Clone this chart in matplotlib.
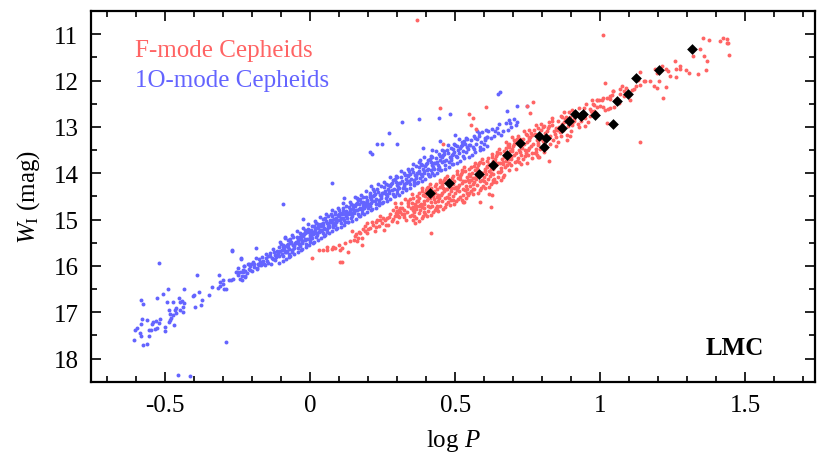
import numpy as np
import matplotlib
matplotlib.use("Agg")
import matplotlib.pyplot as plt
from matplotlib.ticker import MultipleLocator

# ---- data (log P, W_I) ----

# classical Cepheids with distances (black diamonds)
cep_logp = [0.413, 0.479, 0.582, 0.630, 0.678, 0.725, 0.790, 0.812, 0.806, 0.868, 0.893,
            0.913, 0.934, 0.941, 0.982, 1.045, 1.059, 1.095, 1.123, 1.201, 1.316]
cep_w = [14.43, 14.22, 14.01, 13.83, 13.60, 13.34, 13.20, 13.25, 13.44, 13.03, 12.87,
         12.73, 12.76, 12.73, 12.75, 12.93, 12.45, 12.30, 11.94, 11.78, 11.33]

# 1O-mode, short period tail
blue_tail = [
    (-0.270, 15.67), (-0.519, 15.93), (-0.239, 15.85), (-0.209, 15.95), (-0.227, 16.01),
    (-0.223, 16.10), (-0.209, 16.07), (-0.253, 16.14), (-0.243, 16.13), (-0.234, 16.30),
    (-0.224, 16.23), (-0.264, 16.28), (-0.271, 16.31), (-0.280, 16.30), (-0.315, 16.19),
    (-0.391, 16.19), (-0.301, 16.30), (-0.310, 16.34), (-0.299, 16.39), (-0.310, 16.44),
    (-0.290, 16.51), (-0.296, 16.49), (-0.317, 16.47), (-0.338, 16.46), (-0.384, 16.57),
    (-0.400, 16.63), (-0.404, 16.66), (-0.372, 16.73), (-0.375, 16.85), (-0.395, 16.89),
    (-0.347, 16.63), (-0.433, 16.51), (-0.489, 16.49), (-0.507, 16.60), (-0.529, 16.70),
    (-0.581, 16.73), (-0.575, 16.82), (-0.453, 16.70), (-0.441, 16.75), (-0.434, 16.80),
    (-0.448, 16.79), (-0.471, 16.79), (-0.492, 16.79), (-0.437, 16.89), (-0.462, 16.92),
    (-0.448, 16.96), (-0.467, 16.96), (-0.485, 16.95), (-0.483, 17.03), (-0.473, 17.06),
    (-0.462, 17.02), (-0.439, 17.00), (-0.480, 17.13), (-0.483, 17.16), (-0.485, 17.22),
    (-0.469, 17.27), (-0.499, 17.31), (-0.501, 17.40), (-0.517, 17.15), (-0.519, 17.23),
    (-0.531, 17.18), (-0.540, 17.22), (-0.545, 17.26), (-0.526, 17.34), (-0.535, 17.36),
    (-0.547, 17.38), (-0.556, 17.39), (-0.563, 17.16), (-0.579, 17.15), (-0.581, 17.25),
    (-0.598, 17.35), (-0.602, 17.39), (-0.586, 17.45), (-0.581, 17.51), (-0.554, 17.52),
    (-0.607, 17.61), (-0.575, 17.71), (-0.563, 17.68), (-0.290, 17.64), (-0.455, 18.36),
    (-0.414, 18.37),
]

# 1O-mode, main ridge
blue_band = [
    (-0.255, 16.14), (-0.247, 16.19), (-0.230, 16.08), (-0.224, 16.22), (-0.207, 16.01),
    (-0.201, 16.12), (-0.193, 15.95), (-0.184, 16.04), (-0.175, 15.86), (-0.170, 15.99),
    (-0.161, 15.90), (-0.152, 15.83), (-0.144, 15.94), (-0.138, 15.79), (-0.129, 15.86),
    (-0.121, 15.76), (-0.115, 15.68), (-0.106, 15.78), (-0.098, 15.65), (-0.092, 15.59),
    (-0.083, 15.71), (-0.075, 15.59), (-0.069, 15.50), (-0.063, 15.65), (-0.058, 15.54),
    (-0.048, 15.49), (-0.040, 15.43), (-0.035, 15.38), (-0.029, 15.50), (-0.023, 15.32),
    (-0.017, 15.43), (-0.012, 15.27), (-0.002, 15.37), (0.002, 15.23), (0.011, 15.32),
    (0.017, 15.18), (0.023, 15.29), (0.029, 15.14), (0.034, 15.23), (0.044, 15.11),
    (0.052, 15.20), (0.057, 15.07), (0.063, 15.14), (0.069, 15.02), (0.078, 15.11),
    (0.083, 14.99), (0.090, 15.06), (0.098, 14.93), (0.103, 15.00), (0.109, 14.87),
    (0.115, 14.97), (0.124, 14.82), (0.132, 14.89), (0.138, 14.77), (0.144, 14.86),
    (0.149, 14.71), (0.159, 14.79), (0.167, 14.66), (0.172, 14.75), (0.181, 14.63),
    (0.190, 14.71), (0.195, 14.57), (0.201, 14.68), (0.207, 14.51),
    (-0.248, 16.05), (-0.236, 16.21), (-0.242, 16.29), (-0.232, 16.14),
    (-0.226, 16.00), (-0.213, 15.95), (-0.218, 16.15), (-0.229, 16.12),
    (-0.197, 15.91), (-0.207, 16.08), (-0.192, 16.03), (-0.204, 15.97),
    (-0.188, 15.83), (-0.176, 15.99), (-0.182, 16.07), (-0.172, 15.92), (-0.179, 15.96),
    (-0.166, 15.80), (-0.153, 15.75), (-0.158, 15.95), (-0.169, 15.92), (-0.155, 15.99),
    (-0.137, 15.72), (-0.147, 15.89), (-0.132, 15.84), (-0.144, 15.78), (-0.134, 15.95),
    (-0.128, 15.64), (-0.116, 15.80), (-0.122, 15.88), (-0.112, 15.73), (-0.119, 15.77), (-0.125, 15.70),
    (-0.106, 15.60), (-0.093, 15.55), (-0.098, 15.75), (-0.109, 15.72), (-0.095, 15.79), (-0.103, 15.68), (-0.091, 15.64),
    (-0.077, 15.52), (-0.087, 15.69), (-0.072, 15.64), (-0.084, 15.58), (-0.074, 15.75), (-0.081, 15.54), (-0.078, 15.67),
    (-0.068, 15.42), (-0.056, 15.58), (-0.062, 15.66), (-0.052, 15.51), (-0.059, 15.55), (-0.065, 15.48), (-0.054, 15.62), (-0.061, 15.71),
    (-0.046, 15.38), (-0.033, 15.33), (-0.038, 15.53), (-0.049, 15.50), (-0.035, 15.57), (-0.043, 15.46), (-0.031, 15.42), (-0.040, 15.61),
    (-0.017, 15.29), (-0.027, 15.46), (-0.012, 15.41), (-0.024, 15.35), (-0.014, 15.52), (-0.021, 15.31), (-0.018, 15.44), (-0.029, 15.49),
    (-0.008, 15.20), (0.004, 15.36), (-0.002, 15.44), (0.008, 15.29), (0.001, 15.33), (-0.005, 15.26), (0.006, 15.40), (-0.001, 15.49),
    (0.014, 15.15), (0.027, 15.10), (0.022, 15.30), (0.011, 15.27), (0.025, 15.34), (0.017, 15.23), (0.029, 15.19), (0.020, 15.38),
    (0.043, 15.07), (0.033, 15.24), (0.048, 15.19), (0.036, 15.13), (0.046, 15.30), (0.039, 15.09), (0.042, 15.22), (0.031, 15.27),
    (0.052, 14.97), (0.064, 15.13), (0.058, 15.21), (0.068, 15.06), (0.061, 15.10), (0.055, 15.03), (0.066, 15.17), (0.059, 15.26),
    (0.074, 14.93), (0.087, 14.88), (0.082, 15.08), (0.071, 15.05), (0.085, 15.12), (0.077, 15.01), (0.089, 14.97), (0.080, 15.16),
    (0.103, 14.85), (0.093, 15.02), (0.108, 14.97), (0.096, 14.91), (0.106, 15.08), (0.099, 14.87), (0.102, 15.00), (0.091, 15.05),
    (0.112, 14.76), (0.124, 14.92), (0.118, 15.00), (0.128, 14.85), (0.121, 14.89), (0.115, 14.82), (0.126, 14.96), (0.119, 15.05),
    (0.134, 14.73), (0.147, 14.68), (0.142, 14.88), (0.131, 14.85), (0.145, 14.92), (0.137, 14.81), (0.149, 14.77), (0.140, 14.96),
    (0.163, 14.65), (0.153, 14.82), (0.168, 14.77), (0.156, 14.71), (0.166, 14.88), (0.159, 14.67), (0.162, 14.80), (0.151, 14.85),
    (0.172, 14.56), (0.184, 14.72), (0.178, 14.80), (0.188, 14.65), (0.181, 14.69), (0.175, 14.62), (0.186, 14.76), (0.179, 14.85),
    (0.194, 14.52), (0.207, 14.47), (0.202, 14.67), (0.191, 14.64), (0.205, 14.71), (0.197, 14.60), (0.209, 14.56), (0.200, 14.75),
    (0.223, 14.44), (0.213, 14.61), (0.228, 14.56), (0.216, 14.50), (0.226, 14.67), (0.219, 14.46), (0.222, 14.59), (0.211, 14.64),
    (0.232, 14.34), (0.244, 14.50), (0.238, 14.58), (0.248, 14.43), (0.241, 14.47), (0.235, 14.40), (0.246, 14.54), (0.239, 14.63),
    (0.254, 14.30), (0.267, 14.25), (0.262, 14.45), (0.251, 14.42), (0.265, 14.49), (0.257, 14.38), (0.269, 14.34), (0.260, 14.53),
    (0.283, 14.22), (0.273, 14.39), (0.288, 14.34), (0.276, 14.28), (0.286, 14.45), (0.279, 14.24), (0.282, 14.37), (0.271, 14.42),
    (0.292, 14.13), (0.304, 14.29), (0.298, 14.37), (0.308, 14.22), (0.301, 14.26), (0.295, 14.19), (0.306, 14.33), (0.299, 14.42),
    (0.314, 14.09), (0.327, 14.04), (0.322, 14.24), (0.311, 14.21), (0.325, 14.28), (0.317, 14.17), (0.329, 14.13), (0.320, 14.32),
    (0.343, 14.01), (0.333, 14.18), (0.348, 14.13), (0.336, 14.07), (0.346, 14.24), (0.339, 14.03), (0.342, 14.16), (0.331, 14.21),
    (0.352, 13.91), (0.364, 14.07), (0.358, 14.15), (0.368, 14.00), (0.361, 14.04), (0.355, 13.97), (0.366, 14.11), (0.359, 14.20),
    (0.374, 13.87), (0.387, 13.82), (0.382, 14.02), (0.371, 13.99), (0.385, 14.06), (0.377, 13.95), (0.389, 13.91), (0.380, 14.10),
    (0.403, 13.79), (0.393, 13.96), (0.408, 13.91), (0.396, 13.85), (0.406, 14.02), (0.399, 13.81), (0.402, 13.94), (0.391, 13.99),
    (0.412, 13.70), (0.424, 13.86), (0.418, 13.94), (0.428, 13.79), (0.421, 13.83), (0.415, 13.76), (0.426, 13.90), (0.419, 13.99),
    (0.434, 13.67), (0.447, 13.62), (0.442, 13.82), (0.431, 13.79), (0.445, 13.86), (0.437, 13.75), (0.449, 13.71), (0.440, 13.90),
    (0.463, 13.59), (0.453, 13.76), (0.468, 13.71), (0.456, 13.65), (0.466, 13.82), (0.459, 13.61), (0.462, 13.74),
    (0.472, 13.51), (0.484, 13.67), (0.478, 13.75), (0.488, 13.60), (0.481, 13.64), (0.475, 13.57), (0.486, 13.71),
    (0.494, 13.47), (0.507, 13.42), (0.502, 13.62), (0.491, 13.59), (0.505, 13.66), (0.497, 13.55), (0.509, 13.51),
    (0.523, 13.40), (0.513, 13.57), (0.528, 13.52), (0.516, 13.46), (0.526, 13.63), (0.519, 13.42),
    (0.532, 13.31), (0.544, 13.47), (0.538, 13.55), (0.548, 13.40), (0.541, 13.44), (0.535, 13.37),
    (0.554, 13.28), (0.567, 13.23), (0.562, 13.43), (0.551, 13.40), (0.565, 13.47),
    (0.583, 13.20), (0.573, 13.37), (0.588, 13.32), (0.576, 13.26), (0.586, 13.43),
    (0.592, 13.12), (0.604, 13.28), (0.598, 13.36), (0.608, 13.21), (0.601, 13.25),
    (0.614, 13.09), (0.627, 13.04), (0.622, 13.24), (0.611, 13.21),
    (0.643, 13.02), (0.633, 13.19), (0.648, 13.14), (0.636, 13.08),
    (0.652, 12.94), (0.664, 13.10), (0.658, 13.18),
    (0.674, 12.91), (0.687, 12.86), (0.682, 13.06),
    (0.703, 12.84), (0.693, 13.01), (0.708, 12.96),
]

# 1O-mode, edges of the ridge
blue_edge = [
    (-0.104, 15.49), (-0.094, 15.90), (-0.099, 15.53), (-0.108, 15.93),
    (-0.075, 15.44), (-0.083, 15.85), (-0.071, 15.80), (-0.086, 15.39),
    (-0.064, 15.34), (-0.054, 15.75), (-0.059, 15.38), (-0.068, 15.78),
    (-0.035, 15.29), (-0.043, 15.70), (-0.031, 15.65), (-0.046, 15.24),
    (-0.024, 15.19), (-0.014, 15.60), (-0.019, 15.23), (-0.028, 15.63),
    (0.005, 15.14), (-0.003, 15.55), (0.009, 15.50), (-0.006, 15.09),
    (0.016, 15.04), (0.026, 15.45), (0.021, 15.08), (0.012, 15.48),
    (0.045, 14.99), (0.037, 15.40), (0.049, 15.35), (0.034, 14.94),
    (0.056, 14.89), (0.066, 15.30), (0.061, 14.93), (0.052, 15.33),
    (0.085, 14.84), (0.077, 15.25), (0.089, 15.20), (0.074, 14.79),
    (0.096, 14.75), (0.106, 15.16), (0.101, 14.79), (0.092, 15.19),
    (0.125, 14.70), (0.117, 15.11), (0.129, 15.06), (0.114, 14.65),
    (0.136, 14.62), (0.146, 15.03), (0.141, 14.66), (0.132, 15.06),
    (0.165, 14.57), (0.157, 14.98), (0.169, 14.93), (0.154, 14.52),
    (0.176, 14.48), (0.186, 14.89), (0.181, 14.52), (0.172, 14.92),
    (0.205, 14.43), (0.197, 14.84), (0.209, 14.79), (0.194, 14.38),
    (0.216, 14.34), (0.226, 14.75), (0.221, 14.38), (0.212, 14.78),
    (0.245, 14.28), (0.237, 14.69), (0.249, 14.64), (0.234, 14.23),
    (0.256, 14.19), (0.266, 14.60), (0.261, 14.23), (0.252, 14.63),
    (0.285, 14.14), (0.277, 14.55), (0.289, 14.50), (0.274, 14.09),
    (0.296, 14.05), (0.306, 14.46), (0.301, 14.09), (0.292, 14.49),
    (0.325, 14.00), (0.317, 14.41), (0.329, 14.36), (0.314, 13.95),
    (0.336, 13.91), (0.346, 14.32), (0.341, 13.95), (0.332, 14.35),
    (0.365, 13.85), (0.357, 14.26), (0.369, 14.21), (0.354, 13.80),
    (0.376, 13.76), (0.386, 14.17), (0.381, 13.80), (0.372, 14.20),
    (0.405, 13.71), (0.397, 14.12), (0.409, 14.07), (0.394, 13.66),
    (0.416, 13.62), (0.426, 14.03), (0.421, 13.66), (0.412, 14.06),
    (0.445, 13.58), (0.437, 13.99), (0.449, 13.94), (0.434, 13.53),
    (0.456, 13.49), (0.466, 13.90), (0.461, 13.53), (0.452, 13.93),
    (0.485, 13.45), (0.477, 13.86), (0.489, 13.81), (0.474, 13.40),
    (0.496, 13.36), (0.506, 13.77), (0.501, 13.40), (0.492, 13.80),
    (0.525, 13.32), (0.517, 13.73), (0.529, 13.68), (0.514, 13.27),
    (0.536, 13.23), (0.546, 13.64), (0.541, 13.27),
    (0.565, 13.19), (0.557, 13.60), (0.569, 13.55),
    (0.576, 13.10), (0.586, 13.51), (0.581, 13.14),
    (0.605, 13.06), (0.597, 13.47), (0.609, 13.42),
]

# 1O-mode, scattered stars
blue_out = [
    (0.653, 12.25), (0.646, 12.30), (0.713, 12.54), (0.747, 12.54), (0.483, 12.73),
    (0.377, 12.83), (0.445, 12.81), (0.316, 12.90), (0.271, 13.13), (0.230, 13.36),
    (0.247, 13.38), (0.207, 13.55), (0.213, 13.58), (0.299, 13.36), (0.389, 13.45),
    (0.420, 13.51), (0.498, 13.18), (0.379, 13.71), (0.209, 14.28), (0.161, 14.53),
    (0.448, 13.31), (0.679, 12.66), (0.690, 12.91), (0.713, 12.89), (0.075, 14.21),
    (-0.094, 14.66), (-0.025, 14.99), (-0.086, 15.38), (0.117, 14.54), (0.071, 14.88),
    (-0.186, 15.61), (-0.270, 15.65), (-0.239, 15.84),
]

# F-mode, short period end
red_short = [
    (0.006, 15.83), (0.032, 15.65), (0.046, 15.65), (0.057, 15.59), (0.057, 15.66),
    (0.075, 15.63), (0.080, 15.59), (0.086, 15.61), (0.098, 15.56), (0.103, 15.66),
    (0.103, 15.91), (0.109, 15.92), (0.109, 15.61), (0.121, 15.50), (0.132, 15.71),
    (0.138, 15.47), (0.144, 15.25), (0.155, 15.36), (0.159, 15.32), (0.161, 15.47),
    (0.167, 15.27), (0.172, 15.29), (0.178, 15.54), (0.178, 15.40), (0.190, 15.25),
    (0.190, 15.14), (0.195, 15.07), (0.195, 15.29), (0.207, 15.18), (0.218, 15.11),
    (0.224, 15.25), (0.230, 15.00), (0.236, 15.14), (0.241, 14.93), (0.247, 15.07),
    (0.253, 15.22), (0.264, 14.97), (0.270, 15.11), (0.276, 14.89), (0.282, 15.04),
    (0.287, 14.79), (0.293, 14.93), (0.301, 14.82), (0.310, 14.75), (0.316, 14.89),
    (0.322, 14.79), (0.331, 15.00), (0.336, 14.71), (0.351, 14.64), (0.356, 14.79),
    (0.368, 14.61), (0.379, 14.68), (0.417, 15.30), (0.200, 15.20), (0.212, 15.05),
    (0.226, 15.16), (0.240, 15.02), (0.258, 15.00), (0.262, 15.12), (0.272, 14.95),
    (0.285, 14.98), (0.296, 14.86), (0.305, 14.95), (0.250, 14.97), (0.228, 15.06),
    (0.183, 15.20), (0.166, 15.40), (0.150, 15.45),
]

# F-mode, main ridge
red_band = [
    (0.292, 14.65), (0.304, 14.92), (0.298, 15.05), (0.308, 14.80), (0.301, 14.87), (0.295, 14.74),
    (0.314, 14.64), (0.327, 14.55), (0.322, 14.88), (0.311, 14.83), (0.325, 14.95), (0.317, 14.76),
    (0.343, 14.55), (0.333, 14.83), (0.348, 14.75), (0.336, 14.65), (0.346, 14.93), (0.339, 14.59),
    (0.352, 14.44), (0.364, 14.71), (0.358, 14.84), (0.368, 14.59), (0.361, 14.66), (0.355, 14.53), (0.366, 14.77), (0.359, 14.92), (0.369, 14.49), (0.353, 14.74),
    (0.374, 14.42), (0.387, 14.33), (0.382, 14.66), (0.371, 14.61), (0.385, 14.73), (0.377, 14.54), (0.389, 14.48), (0.380, 14.79), (0.376, 14.70), (0.386, 14.39),
    (0.403, 14.33), (0.393, 14.61), (0.408, 14.53), (0.396, 14.43), (0.406, 14.71), (0.399, 14.37), (0.402, 14.57), (0.391, 14.66), (0.405, 14.29), (0.397, 14.49),
    (0.412, 14.23), (0.424, 14.50), (0.418, 14.63), (0.428, 14.38), (0.421, 14.45), (0.415, 14.32), (0.426, 14.56), (0.419, 14.71), (0.429, 14.28), (0.413, 14.53),
    (0.434, 14.23), (0.447, 14.14), (0.442, 14.47), (0.431, 14.42), (0.445, 14.54), (0.437, 14.35), (0.449, 14.29), (0.440, 14.60), (0.436, 14.51), (0.446, 14.20),
    (0.463, 14.15), (0.453, 14.43), (0.468, 14.35), (0.456, 14.25), (0.466, 14.53), (0.459, 14.19), (0.462, 14.39), (0.451, 14.48), (0.465, 14.11), (0.457, 14.31),
    (0.472, 14.05), (0.484, 14.32), (0.478, 14.45), (0.488, 14.20), (0.481, 14.27), (0.475, 14.14), (0.486, 14.38), (0.479, 14.53), (0.489, 14.10), (0.473, 14.35),
    (0.494, 14.05), (0.507, 13.96), (0.502, 14.29), (0.491, 14.24), (0.505, 14.36), (0.497, 14.17), (0.509, 14.11), (0.500, 14.42), (0.496, 14.33), (0.506, 14.02),
    (0.523, 13.97), (0.513, 14.25), (0.528, 14.17), (0.516, 14.07), (0.526, 14.35), (0.519, 14.01), (0.522, 14.21), (0.511, 14.30), (0.525, 13.93), (0.517, 14.13),
    (0.532, 13.87), (0.544, 14.14), (0.538, 14.27), (0.548, 14.02), (0.541, 14.09), (0.535, 13.96), (0.546, 14.20), (0.539, 14.35), (0.549, 13.92), (0.533, 14.17),
    (0.554, 13.87), (0.567, 13.78), (0.562, 14.11), (0.551, 14.06), (0.565, 14.18), (0.557, 13.99), (0.569, 13.93), (0.560, 14.24), (0.556, 14.15), (0.566, 13.84),
    (0.583, 13.79), (0.573, 14.07), (0.588, 13.99), (0.576, 13.89), (0.586, 14.17), (0.579, 13.83), (0.582, 14.03), (0.571, 14.12), (0.585, 13.75), (0.577, 13.95),
    (0.592, 13.69), (0.604, 13.96), (0.598, 14.09), (0.608, 13.84), (0.601, 13.91), (0.595, 13.78), (0.606, 14.02), (0.599, 14.17), (0.609, 13.74), (0.593, 13.99),
    (0.614, 13.68), (0.627, 13.59), (0.622, 13.92), (0.611, 13.87), (0.625, 13.99), (0.617, 13.80), (0.629, 13.74), (0.620, 14.05), (0.616, 13.96), (0.626, 13.65),
    (0.643, 13.59), (0.633, 13.87), (0.648, 13.79), (0.636, 13.69), (0.646, 13.97), (0.639, 13.63), (0.642, 13.83), (0.631, 13.92), (0.645, 13.55), (0.637, 13.75),
    (0.652, 13.48), (0.664, 13.75), (0.658, 13.88), (0.668, 13.63), (0.661, 13.70), (0.655, 13.57), (0.666, 13.81), (0.659, 13.96), (0.669, 13.53), (0.653, 13.78),
    (0.674, 13.46), (0.687, 13.37), (0.682, 13.70), (0.671, 13.65), (0.685, 13.77), (0.677, 13.58), (0.689, 13.52), (0.680, 13.83), (0.676, 13.74), (0.686, 13.43),
    (0.703, 13.37), (0.693, 13.65), (0.708, 13.57), (0.696, 13.47), (0.706, 13.75), (0.699, 13.41), (0.702, 13.61), (0.691, 13.70), (0.705, 13.33), (0.697, 13.53),
    (0.712, 13.27), (0.724, 13.54), (0.718, 13.67), (0.728, 13.42), (0.721, 13.49), (0.715, 13.36), (0.726, 13.60), (0.719, 13.75),
    (0.734, 13.26), (0.747, 13.17), (0.742, 13.50), (0.731, 13.45), (0.745, 13.57), (0.737, 13.38), (0.749, 13.32), (0.740, 13.63),
    (0.763, 13.18), (0.753, 13.46), (0.768, 13.38), (0.756, 13.28), (0.766, 13.56), (0.759, 13.22), (0.762, 13.42), (0.751, 13.51),
    (0.772, 13.07), (0.784, 13.34), (0.778, 13.47), (0.788, 13.22), (0.781, 13.29), (0.775, 13.16), (0.786, 13.40), (0.779, 13.55),
    (0.794, 13.07), (0.807, 12.98), (0.802, 13.31), (0.791, 13.26), (0.805, 13.38), (0.797, 13.19), (0.809, 13.13), (0.800, 13.44),
    (0.823, 12.99), (0.813, 13.27), (0.828, 13.19), (0.816, 13.09), (0.826, 13.37), (0.819, 13.03), (0.822, 13.23),
    (0.832, 12.88), (0.844, 13.15), (0.838, 13.28), (0.848, 13.03), (0.841, 13.10), (0.835, 12.97), (0.846, 13.21),
    (0.854, 12.88), (0.867, 12.79), (0.862, 13.12), (0.851, 13.07), (0.865, 13.19), (0.857, 13.00), (0.869, 12.94),
    (0.883, 12.79), (0.873, 13.07), (0.888, 12.99), (0.876, 12.89), (0.886, 13.17), (0.879, 12.83),
    (0.892, 12.69), (0.904, 12.96), (0.898, 13.09), (0.908, 12.84), (0.901, 12.91), (0.895, 12.78),
    (0.914, 12.69), (0.927, 12.60), (0.922, 12.93), (0.911, 12.88), (0.925, 13.00),
    (0.943, 12.60), (0.933, 12.88), (0.948, 12.80), (0.936, 12.70), (0.946, 12.98),
    (0.952, 12.50), (0.964, 12.77), (0.958, 12.90), (0.968, 12.65),
    (0.974, 12.50), (0.987, 12.41), (0.982, 12.74), (0.971, 12.69),
]

# F-mode, faint edge of the ridge (and bright edge at longer periods)
red_edge = [
    (0.355, 15.02), (0.366, 14.97), (0.362, 15.08), (0.352, 14.90),
    (0.384, 14.97), (0.374, 14.86), (0.389, 14.92), (0.377, 15.03),
    (0.395, 14.87), (0.406, 14.82), (0.402, 14.93), (0.392, 14.75),
    (0.424, 14.84), (0.414, 14.73), (0.429, 14.79), (0.417, 14.90),
    (0.435, 14.75), (0.446, 14.70), (0.442, 14.81), (0.432, 14.63),
    (0.464, 14.72), (0.454, 14.61), (0.469, 14.67), (0.457, 14.78),
    (0.475, 14.63), (0.486, 14.58), (0.482, 14.69), (0.472, 14.51),
    (0.504, 14.60), (0.494, 14.49), (0.509, 14.55), (0.497, 14.66),
    (0.515, 14.51), (0.526, 14.46), (0.522, 14.57), (0.512, 14.39),
    (0.544, 14.48), (0.534, 14.37), (0.549, 14.43), (0.537, 14.54),
    (0.555, 14.39), (0.566, 14.34), (0.562, 14.45), (0.552, 14.27),
    (0.584, 14.36), (0.574, 14.25), (0.589, 14.31), (0.577, 14.42),
    (0.595, 14.27), (0.606, 14.22), (0.602, 14.33), (0.592, 14.15),
    (0.624, 14.23), (0.614, 14.12), (0.629, 14.18), (0.617, 14.29),
    (0.635, 14.13), (0.646, 14.08), (0.642, 14.19), (0.632, 14.01),
    (0.664, 14.09), (0.654, 13.98), (0.669, 14.04), (0.657, 14.15),
    (0.675, 13.32), (0.686, 13.93), (0.682, 13.40), (0.672, 13.86),
    (0.704, 13.28), (0.694, 13.83), (0.709, 13.90), (0.697, 13.22),
    (0.715, 13.19), (0.726, 13.80), (0.722, 13.27), (0.712, 13.73),
    (0.744, 13.15), (0.734, 13.70), (0.749, 13.77), (0.737, 13.09),
    (0.755, 13.06), (0.766, 13.67), (0.762, 13.14), (0.752, 13.60),
    (0.784, 13.02), (0.774, 13.57), (0.789, 13.64), (0.777, 12.96),
    (0.795, 12.93), (0.806, 13.54), (0.802, 13.01), (0.792, 13.47),
    (0.824, 12.90), (0.814, 13.45), (0.835, 12.80), (0.846, 13.41),
    (0.864, 12.77), (0.854, 13.32), (0.875, 12.67), (0.886, 13.28),
    (0.904, 12.64), (0.894, 13.19),
]

# F-mode, long periods
red_long = [
    (1.011, 11.02), (1.015, 12.06), (1.136, 11.81), (1.155, 12.00), (1.172, 12.02),
    (1.187, 11.76), (1.195, 11.83), (1.201, 12.01), (1.184, 12.12), (1.195, 12.17),
    (1.213, 11.69), (1.228, 11.75), (1.232, 11.80), (1.241, 11.91), (1.228, 12.14),
    (1.216, 12.38), (1.259, 11.58), (1.274, 11.68), (1.262, 11.76), (1.274, 11.76),
    (1.262, 11.92), (1.297, 11.78), (1.305, 11.83), (1.336, 11.85), (1.363, 11.78),
    (1.356, 11.47), (1.366, 11.58), (1.343, 11.33), (1.354, 11.08), (1.374, 11.13),
    (1.414, 11.15), (1.423, 11.09), (1.437, 11.11), (1.440, 11.20), (1.435, 11.19),
    (1.444, 11.45), (1.320, 11.46), (1.136, 13.32), (1.129, 11.98), (1.149, 12.01),
    (1.138, 12.09), (1.124, 12.12), (1.117, 12.19), (1.109, 12.21), (1.090, 12.16),
    (1.080, 12.23), (1.069, 12.19), (1.075, 12.12), (1.067, 12.30), (1.080, 12.34),
    (1.103, 12.41), (1.044, 12.23), (1.040, 12.32), (1.034, 12.40), (1.023, 12.37),
    (1.011, 12.38), (1.006, 12.41), (0.994, 12.41), (1.000, 12.54), (1.011, 12.57),
    (1.017, 12.64), (1.025, 12.61), (0.988, 12.57), (0.977, 12.52), (0.971, 12.41),
    (0.979, 12.66), (0.966, 12.61), (1.023, 12.91), (1.034, 12.60), (1.046, 12.57),
    (1.063, 12.48), (1.052, 12.45), (0.986, 12.71), (1.043, 12.23), (1.034, 12.34),
    (0.990, 12.41),
]

# F-mode, scattered stars
red_out = [
    (0.370, 10.70), (0.448, 12.59), (0.607, 12.58), (0.749, 12.56), (0.768, 12.46),
    (0.546, 12.72), (0.563, 12.81), (0.555, 12.95), (0.571, 13.04), (0.458, 13.36),
    (0.759, 12.70), (0.615, 14.45), (0.623, 14.73), (0.586, 14.62), (0.526, 14.63),
    (0.494, 14.57), (0.439, 14.75), (0.391, 14.83), (0.823, 13.74), (0.782, 13.60),
    (0.632, 14.14), (0.529, 14.63), (0.540, 14.43), (0.437, 14.71), (0.784, 13.65),
    (0.753, 13.24), (0.626, 14.46), (0.563, 14.35),
]

RED = "#ff6464"
BLUE = "#6464ff"

plt.rcParams["font.family"] = ["Liberation Serif", "DejaVu Serif"]
plt.rcParams["mathtext.fontset"] = "custom"
plt.rcParams["mathtext.rm"] = "Liberation Serif"
plt.rcParams["mathtext.it"] = "Liberation Serif:italic"

fig = plt.figure(figsize=(8.3, 4.64), dpi=100)
ax = fig.add_axes([0.1096, 0.1752, 0.8724, 0.7989])

blue = np.array(blue_tail + blue_band + blue_edge + blue_out)
red = np.array(red_short + red_band + red_edge + red_long + red_out)

# dots drawn a bit larger than the originals so the ridges read as solid bands
ax.scatter(blue[:, 0], blue[:, 1], s=8, color=BLUE, linewidths=0, zorder=2)
ax.scatter(red[:, 0], red[:, 1], s=8, color=RED, linewidths=0, zorder=2)
ax.scatter(cep_logp, cep_w, s=30, marker="D", color="black", linewidths=0, zorder=3)

ax.set_xlim(-0.755, 1.74)
ax.set_ylim(18.5, 10.5)

ax.xaxis.set_major_locator(MultipleLocator(0.5))
ax.xaxis.set_minor_locator(MultipleLocator(0.1))
ax.yaxis.set_major_locator(MultipleLocator(1))
ax.yaxis.set_minor_locator(MultipleLocator(0.5))
ax.set_xticks([-0.5, 0, 0.5, 1, 1.5])
ax.set_xticklabels(["-0.5", "0", "0.5", "1", "1.5"])

ax.tick_params(which="both", direction="in", top=True, right=True, labelsize=18, width=1.2)
ax.tick_params(which="major", length=7, pad=9)
ax.tick_params(which="minor", length=4)
for sp in ax.spines.values():
    sp.set_linewidth(1.6)

ax.set_xlabel("log $P$", fontsize=18, labelpad=8)
ax.set_ylabel("$W_\\mathrm{I}$ (mag)", fontsize=18, labelpad=8)

ax.text(0.061, 0.879, "F-mode Cepheids", color=RED, fontsize=18, transform=ax.transAxes, va="baseline")
ax.text(0.061, 0.797, "1O-mode Cepheids", color=BLUE, fontsize=18, transform=ax.transAxes, va="baseline")
ax.text(0.930, 0.075, "LMC", fontsize=18, fontweight="bold", transform=ax.transAxes,
        ha="right", va="baseline")

fig.savefig("out.png", dpi=100)
